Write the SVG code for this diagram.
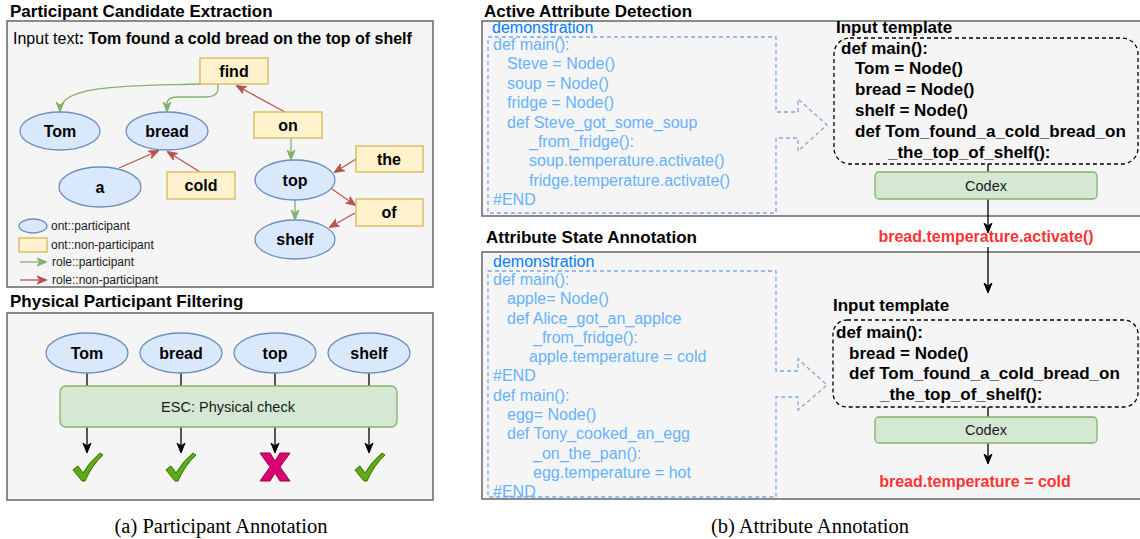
<svg xmlns="http://www.w3.org/2000/svg" width="1140" height="539" viewBox="0 0 1140 539">
<style>
text{font-family:"Liberation Sans",Arial,sans-serif}
.panel{fill:#f5f5f5;stroke:#666;stroke-width:1.5}
.title{font-weight:bold;font-size:17px;fill:#000}
.ell{fill:#dae8fc;stroke:#6c8ebf;stroke-width:1.3}
.ybox{fill:#fff2cc;stroke:#d6b656;stroke-width:1.3}
.gbox{fill:#d5e8d4;stroke:#82b366;stroke-width:1.3}
.lbl{font-weight:bold;font-size:16px;text-anchor:middle;fill:#000}
.plain{font-size:14.5px;text-anchor:middle;fill:#1a1a1a}
.leg{font-size:12px;fill:#1a1a1a}
.code{font-size:16px;fill:#66b2ff}
.demo{font-size:16px;fill:#007fff}
.tmpl{font-weight:bold;font-size:17px;fill:#000}
.red{font-weight:bold;font-size:16px;fill:#ff3333;text-anchor:middle}
.dash{fill:none;stroke:#7ea6e0;stroke-width:1.3;stroke-dasharray:4 3}
.bdash{fill:none;stroke:#000;stroke-width:1.3;stroke-dasharray:4 3}
.ga{fill:none;stroke:#82b366;stroke-width:1.3;marker-end:url(#mg)}
.ra{fill:none;stroke:#b85450;stroke-width:1.3;marker-end:url(#mr)}
.ka{fill:none;stroke:#000;stroke-width:1.3;marker-end:url(#mk)}
.kl{fill:none;stroke:#000;stroke-width:1.3}
.cap{font-family:"Liberation Serif","Times New Roman",serif;font-size:20.5px;text-anchor:middle;fill:#000}
.chk{fill:#60a917;stroke:#2d7600;stroke-width:1}
.crs{fill:#d80073;stroke:#a50040;stroke-width:1}
</style>
<defs>
<marker id="mg" viewBox="0 0 10 10" refX="9" refY="5" markerWidth="10" markerHeight="10" orient="auto" markerUnits="userSpaceOnUse"><path d="M0,1 L10,5 L0,9 L3,5 Z" fill="#82b366" stroke="#82b366"/></marker>
<marker id="mr" viewBox="0 0 10 10" refX="9" refY="5" markerWidth="10" markerHeight="10" orient="auto" markerUnits="userSpaceOnUse"><path d="M0,1 L10,5 L0,9 L3,5 Z" fill="#b85450" stroke="#b85450"/></marker>
<marker id="mk" viewBox="0 0 10 10" refX="9" refY="5" markerWidth="10" markerHeight="10" orient="auto" markerUnits="userSpaceOnUse"><path d="M0,1 L10,5 L0,9 L3,5 Z" fill="#000" stroke="#000"/></marker>
<path id="check" class="chk" d="M1,17 Q4,14 6,13 L11,20 Q18,8 28,0 L31,2 Q20,12 13,28 L10,28 Z"/>
<path id="cross" class="crs" d="M0,0 L10,0 L15,8 L20,0 L30,0 L20,14 L30,28 L20,28 L15,20 L10,28 L0,28 L10,14 Z"/>
</defs>

<!-- Panels -->
<g id="panels">
<text class="title" x="10" y="17">Participant Candidate Extraction</text>
<rect class="panel" x="7" y="21" width="426" height="266"/>
<text class="title" x="10" y="307">Physical Participant Filtering</text>
<rect class="panel" x="7" y="313" width="426" height="187"/>
<text class="title" x="484" y="17">Active Attribute Detection</text>
<rect class="panel" x="482" y="21" width="660" height="195"/>
<text class="title" x="486" y="243">Attribute State Annotation</text>
<rect class="panel" x="482" y="252" width="660" height="247"/>
</g>
<text x="13" y="44" style="font-size:16px"><tspan>Input text</tspan><tspan font-weight="bold">: Tom found a cold bread on the top of shelf</tspan></text>

<g id="connectors">
<path class="ga" d="M200,84 C130,86 60,84 60,111"/>
<path class="ga" d="M218,84 L218,88 Q218,97 205,97 L177,97 Q167,97 167,104 L167,111"/>
<path class="ra" d="M285,112 L237,86"/>
<path class="ga" d="M291,138 L291,159"/>
<path class="ra" d="M119,168 L158,151"/>
<path class="ra" d="M200,172 L168,152"/>
<path class="ra" d="M356,159 L335,172"/>
<path class="ra" d="M332,189 L355,205"/>
<path class="ra" d="M355,213 L330,227"/>
<path class="ga" d="M295,200 L295,219"/>
<path class="ga" d="M20,262 L46,262"/>
<path class="ra" d="M20,280 L46,280"/>
<path class="kl" d="M87,373 L87,386"/>
<path class="kl" d="M181,373 L181,386"/>
<path class="kl" d="M275,373 L275,386"/>
<path class="kl" d="M369,373 L369,386"/>
<path class="ka" d="M87,427 L87,452"/>
<path class="ka" d="M181,427 L181,452"/>
<path class="ka" d="M275,427 L275,452"/>
<path class="ka" d="M369,427 L369,452"/>
<path class="kl" d="M988,164 L988,172"/>
<path class="ka" d="M988,199 L988,232"/>
<path class="ka" d="M988,247 L988,292"/>
<path class="kl" d="M988,407 L988,417"/>
<path class="ka" d="M988,443 L988,463"/>
</g>

<g id="n-find"><rect class="ybox" x="200" y="58" width="68" height="26"/><text class="lbl" x="234" y="77">find</text></g>
<g id="n-on"><rect class="ybox" x="254" y="112" width="68" height="26"/><text class="lbl" x="288" y="131">on</text></g>
<g id="n-tom"><ellipse class="ell" cx="60" cy="131" rx="40" ry="19"/><text class="lbl" x="60" y="137">Tom</text></g>
<g id="n-bread"><ellipse class="ell" cx="167" cy="131" rx="41" ry="19"/><text class="lbl" x="167" y="137">bread</text></g>
<g id="n-a"><ellipse class="ell" cx="100" cy="187" rx="41" ry="20"/><text class="lbl" x="100" y="193">a</text></g>
<g id="n-cold"><rect class="ybox" x="167" y="172" width="68" height="27"/><text class="lbl" x="201" y="191">cold</text></g>
<g id="n-top"><ellipse class="ell" cx="295" cy="180" rx="40" ry="20"/><text class="lbl" x="295" y="186">top</text></g>
<g id="n-the"><rect class="ybox" x="356" y="146" width="67" height="26"/><text class="lbl" x="389" y="165">the</text></g>
<g id="n-of"><rect class="ybox" x="356" y="199" width="67" height="27"/><text class="lbl" x="389" y="218">of</text></g>
<g id="n-shelf"><ellipse class="ell" cx="295" cy="239.5" rx="40" ry="19.5"/><text class="lbl" x="295" y="245">shelf</text></g>

<g id="legend">
<ellipse class="ell" cx="33" cy="226" rx="14" ry="7"/><text class="leg" x="51" y="230">ont::participant</text>
<rect class="ybox" x="19" y="238" width="28" height="14"/><text class="leg" x="51" y="249">ont::non-participant</text>
<text class="leg" x="52" y="266">role::participant</text>
<text class="leg" x="52" y="284">role::non-participant</text>
</g>

<g id="f-tom"><ellipse class="ell" cx="87" cy="353" rx="41" ry="20"/><text class="lbl" x="87" y="359">Tom</text></g>
<g id="f-bread"><ellipse class="ell" cx="181" cy="353" rx="41" ry="20"/><text class="lbl" x="181" y="359">bread</text></g>
<g id="f-top"><ellipse class="ell" cx="275" cy="353" rx="41" ry="20"/><text class="lbl" x="275" y="359">top</text></g>
<g id="f-shelf"><ellipse class="ell" cx="369" cy="353" rx="41" ry="20"/><text class="lbl" x="369" y="359">shelf</text></g>
<g id="esc"><rect class="gbox" x="60" y="386" width="337" height="41" rx="6"/><text class="plain" x="228" y="412">ESC: Physical check</text></g>
<g id="r-tom"><use href="#check" x="72" y="453"/></g>
<g id="r-bread"><use href="#check" x="165" y="453"/></g>
<g id="r-top"><use href="#cross" x="260" y="453"/></g>
<g id="r-shelf"><use href="#check" x="354" y="453"/></g>
<text class="cap" x="221" y="533">(a)  Participant Annotation</text>

<g id="demo1">
<text class="demo" x="492" y="33">demonstration</text>
<path class="dash" d="M488,37 L776,37 L776,112 L798,112 L798,99 L827,125 L798,151 L798,138 L776,138 L776,213 L488,213 Z"/>
<text class="code" x="493" y="50">def main():</text>
<text class="code" x="507" y="69">Steve = Node()</text>
<text class="code" x="507" y="89">soup = Node()</text>
<text class="code" x="507" y="108">fridge = Node()</text>
<text class="code" x="507" y="128">def Steve_got_some_soup</text>
<text class="code" x="529" y="147">_from_fridge():</text>
<text class="code" x="529" y="166">soup.temperature.activate()</text>
<text class="code" x="529" y="186">fridge.temperature.activate()</text>
<text class="code" x="493" y="205">#END</text>
</g>
<g id="tmpl1">
<text class="tmpl" x="836" y="33">Input template</text>
<rect class="bdash" x="834" y="38" width="304" height="126" rx="16"/>
<text class="tmpl" x="841" y="54">def main():</text>
<text class="tmpl" x="855" y="74">Tom = Node()</text>
<text class="tmpl" x="855" y="95">bread = Node()</text>
<text class="tmpl" x="855" y="116">shelf = Node()</text>
<text class="tmpl" x="855" y="137">def Tom_found_a_cold_bread_on</text>
<text class="tmpl" x="888" y="158">_the_top_of_shelf():</text>
</g>
<g id="codex1"><rect class="gbox" x="875" y="172" width="222" height="27" rx="4"/><text class="plain" x="986" y="191">Codex</text></g>
<text class="red" x="986" y="242">bread.temperature.activate()</text>

<g id="demo2">
<text class="demo" x="493" y="267">demonstration</text>
<path class="dash" d="M488,271 L776,271 L776,371 L798,371 L798,359 L827,385 L798,410 L798,397 L776,397 L776,497 L488,497 Z"/>
<text class="code" x="493" y="285">def main():</text>
<text class="code" x="507" y="304">apple= Node()</text>
<text class="code" x="507" y="324">def Alice_got_an_applce</text>
<text class="code" x="533" y="343">_from_fridge():</text>
<text class="code" x="529" y="362">apple.temperature = cold</text>
<text class="code" x="493" y="381">#END</text>
<text class="code" x="493" y="401">def main():</text>
<text class="code" x="507" y="420">egg= Node()</text>
<text class="code" x="507" y="439">def Tony_cooked_an_egg</text>
<text class="code" x="533" y="459">_on_the_pan():</text>
<text class="code" x="533" y="478">egg.temperature = hot</text>
<text class="code" x="493" y="497">#END</text>
</g>
<g id="tmpl2">
<text class="tmpl" x="833" y="311">Input template</text>
<rect class="bdash" x="833" y="320" width="305" height="87" rx="14"/>
<text class="tmpl" x="836" y="338">def main():</text>
<text class="tmpl" x="849" y="359">bread = Node()</text>
<text class="tmpl" x="849" y="379">def Tom_found_a_cold_bread_on</text>
<text class="tmpl" x="880" y="400">_the_top_of_shelf():</text>
</g>
<g id="codex2"><rect class="gbox" x="875" y="417" width="222" height="26" rx="4"/><text class="plain" x="986" y="435">Codex</text></g>
<text class="red" x="975" y="487">bread.temperature = cold</text>
<text class="cap" x="810" y="533">(b)  Attribute Annotation</text>
</svg>
